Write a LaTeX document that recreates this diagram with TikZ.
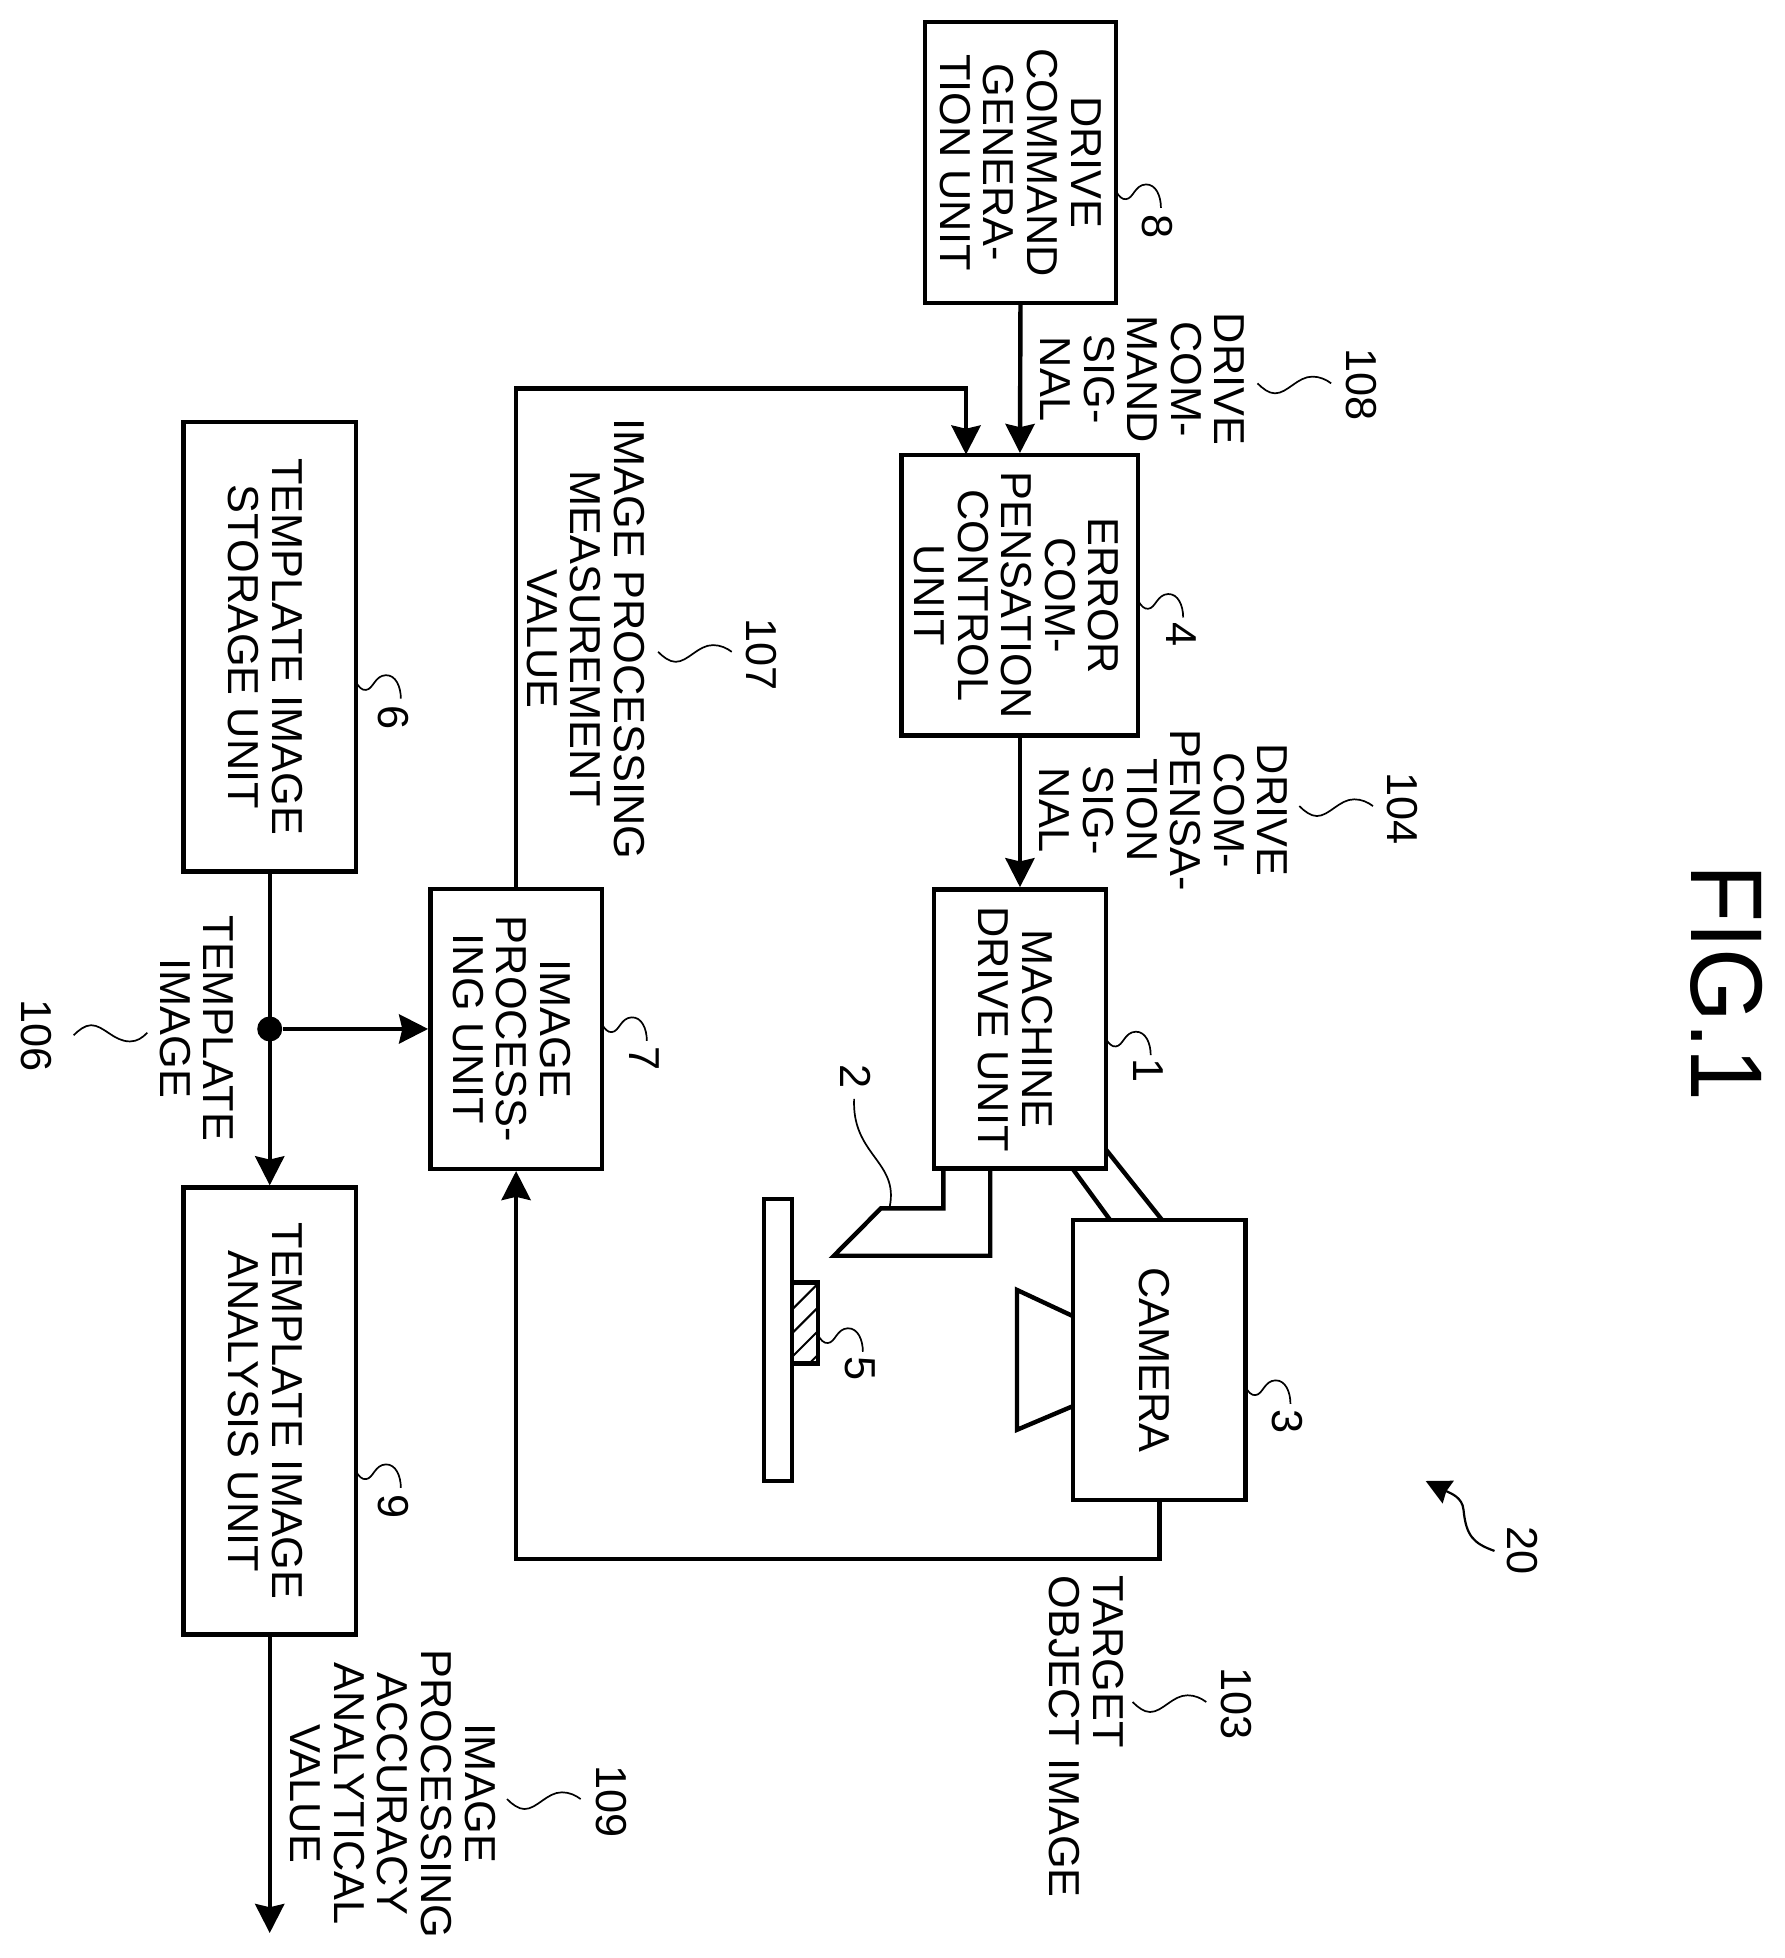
\documentclass[tikz,border=0pt]{standalone}
\usepackage{fontspec}
\setmainfont{Liberation Sans}
\usetikzlibrary{arrows.meta}
\tikzset{
  txt/.style={rotate=-90,inner sep=0pt,align=center,font=\fontsize{21.65}{21.8}\selectfont},
  lbl/.style={txt},
  blk/.style 2 args={draw,line width=2.2pt,txt,minimum width=#1*0.6243pt,minimum height=#2*0.6243pt},
  ln/.style={line width=2.2pt},
  arr/.style={line width=2.2pt,-{Stealth[length=14.5pt,width=14.5pt,inset=1.6pt]}},
  leader/.style={line width=0.85pt},
}
\newcommand{\sqshort}[1]{\draw[leader,shift={(#1)}] (0,0) .. controls (2,4) and (5,7) .. (8,6.5) .. controls (14,6) and (15,-5) .. (24,-5.3) .. controls (32,-5.5) and (36,4) .. (36,13.5);}
\newcommand{\sqlong}[1]{\draw[leader,shift={(#1)}] (0,0) .. controls (4,4) and (9,8) .. (14,8) .. controls (24,8) and (32,-5.4) .. (44,-5.4) .. controls (50,-5.4) and (55,-3) .. (59,0);}
\newcommand{\up}[1]{\rule{0pt}{#1pt}}
\begin{document}
\begin{tikzpicture}[x=0.6243pt,y=-0.6243pt]
\useasboundingbox (0,0) rectangle (1428.8,1568);

% blocks
\node[blk={225}{153}] (drive) at (817.2,130) {DRIVE\\COMMAND\\GENERA-\\TION UNIT};
\node[blk={224.5}{189.5}] (error) at (816.8,476.8) {\up{18.4}ERROR\\COM-\\PENSATION\\CONTROL\\UNIT};
\node[blk={223.5}{137.5}] (machine) at (816.8,824) {\up{19.4}MACHINE\\DRIVE UNIT};
\node[blk={224}{137.4}] (imgproc) at (413.3,824) {\up{19.4}IMAGE\\PROCESS-\\ING UNIT};
\node[blk={360}{138}] (storage) at (216,518) {\up{19.4}TEMPLATE IMAGE\\STORAGE UNIT};
\node[blk={358}{138}] (analysis) at (216,1130) {\up{19.4}TEMPLATE IMAGE\\ANALYSIS UNIT};
\node[blk={224}{138}] (camera) at (928.4,1089) {\up{19.8}CAMERA};

% signal connectors
\draw[arr] (drive.east) -- (error.west);
\draw[arr] (error.east) -- (machine.west);
\coordinate (fbtop) at (773.6,311);
\coordinate (fbin) at (773.6,364);
\draw[arr] (imgproc.west) |- (fbtop) -- (fbin);
\coordinate (cambus) at (928.4,1248.5);
\draw[arr] (camera.east) -- (cambus) -| (imgproc.east);
\node[circle,fill=black,inner sep=0pt,minimum size=12.5pt] (junction) at (216,824) {};
\draw[arr] (storage.east) -- (analysis.west);
\draw[arr] (junction) -- (imgproc.south);
\coordinate (outend) at (216,1548);
\draw[arr] (analysis.east) -- (outend);

% machine head / tool
\coordinate (t1) at (755.4,936);
\coordinate (t2) at (755.4,967.7);
\coordinate (t3) at (705.4,967.7);
\coordinate (t4) at (667.8,1005.6);
\coordinate (t5) at (793,1005.6);
\coordinate (t6) at (793,936);
\draw[ln,line join=miter] (t1) -- (t2) -- (t3) -- (t4) -- (t5) -- (t6);

% camera mounts and lens
\coordinate (m1a) at (886,921);
\coordinate (m1b) at (930.6,977);
\coordinate (m2a) at (859,936);
\coordinate (m2b) at (889,977);
\draw[ln] (m1a) -- (m1b);
\draw[ln] (m2a) -- (m2b);
\coordinate (l1) at (859.3,1054);
\coordinate (l2) at (814.4,1033);
\coordinate (l3) at (814.4,1145);
\coordinate (l4) at (859.3,1126);
\draw[ln] (l1) -- (l2) -- (l3) -- (l4);

% stage and target object
\draw[ln] (611.6,960) rectangle (634,1186);
\begin{scope}
\clip (634,1027) rectangle (655,1092);
\foreach \yy in {1030,1049,1068,1087,1106}
  \draw[line width=1pt] (634,\yy) -- (655,\yy-21);
\end{scope}
\draw[ln] (634,1027) rectangle (655,1092);

% leaders and reference numerals
\sqshort{893.7,153}  \node[lbl] (n8) at (926.6,181.5) {8};
\sqshort{911.5,481}  \node[lbl] (n4) at (946,508.5) {4};
\sqshort{885.5,831.5}\node[lbl] (n1) at (920,857.4) {1};
\sqshort{482,820}    \node[lbl] (n7) at (516,848) {7};
\sqshort{285,546}    \node[lbl] (n6) at (315,574.5) {6};
\sqshort{285,1178}   \node[lbl] (n9) at (315,1206.5) {9};
\sqshort{997.4,1110.7}\node[lbl] (n3) at (1030.7,1138.7) {3};
\sqshort{655,1069}   \node[lbl] (n5) at (689,1096) {5};

\draw[leader] (712.5,966.3) .. controls (720,930) and (682,925) .. (684,880);
\node[lbl] (n2) at (685,862) {2};

\sqlong{1007,307}    \node[lbl] (n108) at (1090.5,308) {108};
\sqlong{1040.5,645.5}\node[lbl] (n104) at (1122.8,647.5) {104};
\sqlong{527,522}     \node[lbl] (n107) at (610,524) {107};
\sqlong{907,1363}    \node[lbl] (n103) at (990,1364) {103};
\sqlong{406,1440.7}  \node[lbl] (n109) at (489.4,1443) {109};
\draw[leader] (59,829) .. controls (63,825) and (68,821) .. (73,821) .. controls (83,821) and (91,834) .. (104,834) .. controls (110,834) and (114,831) .. (118,827);
\node[lbl] (n106) at (29,829) {106};

\coordinate (sys) at (1141.7,1186);
\draw[line width=1.1pt,-{Stealth[length=12.5pt,width=12.5pt,inset=1pt]}] (1196.8,1242) .. controls (1180,1236) and (1174,1230) .. (1172,1209) .. controls (1171,1199) and (1162,1196) .. (sys);
\node[lbl] (n20) at (1219,1241.8) {20};

% signal labels
\node[txt] (s108) at (915,303.5) {DRIVE\\COM-\\MAND\\SIG-\\NAL};
\node[txt] (s104) at (932,648.7) {DRIVE\\COM-\\PENSA-\\TION\\SIG-\\NAL};
\node[txt] (s107) at (469,511.6) {IMAGE PROCESSING\\MEASUREMENT\\VALUE};
\node[txt] (s106) at (157.5,823.5) {TEMPLATE\\IMAGE};
\node[txt,align=left,anchor=west] (s103) at (869.8,1261.3) {TARGET\\OBJECT IMAGE};
\node[txt] (s109) at (314.5,1436.4) {IMAGE\\PROCESSING\\ACCURACY\\ANALYTICAL\\VALUE};

% figure title
\node[rotate=-90,inner sep=0pt,font=\fontsize{51}{51}\selectfont] (fig) at (1383,787) {\scalebox{0.93}[1]{FIG.1}};
\end{tikzpicture}
\end{document}
